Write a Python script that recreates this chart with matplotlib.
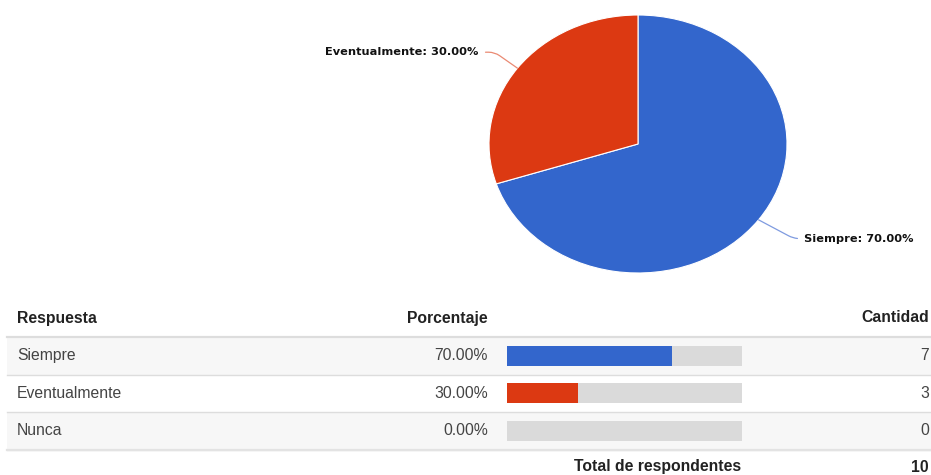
import numpy as np
import matplotlib
matplotlib.use("Agg")
import matplotlib.pyplot as plt
from matplotlib.patches import Rectangle

# data
categories = ["Siempre", "Eventualmente", "Nunca"]
counts = [7, 3, 0]
colors = ["#3366cc", "#dc3912", "#ff9900"]
leader_colors = ["#7f9be0", "#ea8a73", "#ffc266"]
col_headers = ["Respuesta", "Porcentaje", "Cantidad"]
total_label = "Total de respondentes"

W, H = 931, 475
total = sum(counts)
pcts = [100.0 * c / total for c in counts]

fig = plt.figure(figsize=(W / 100, H / 100), dpi=100)
fig.patch.set_facecolor("white")

# overlay axes in pixel coordinates for the table
ax = fig.add_axes([0, 0, 1, 1])
ax.set_xlim(0, W)
ax.set_ylim(H, 0)
ax.axis("off")

# pie (elliptical, like the stretched screenshot)
pl, pr, pt, pb = 489, 787, 15, 273
axp = fig.add_axes([pl / W, 1 - pb / H, (pr - pl) / W, (pb - pt) / H])
nz = [i for i, c in enumerate(counts) if c > 0]
wedges, _ = axp.pie([counts[i] for i in nz], colors=[colors[i] for i in nz],
                    startangle=90, counterclock=False,
                    wedgeprops=dict(edgecolor="white", linewidth=0.8))
axp.set_aspect("auto")
axp.set_xlim(-1, 1)
axp.set_ylim(-1, 1)

for w, i in zip(wedges, nz):
    ang = np.deg2rad((w.theta1 + w.theta2) / 2)
    x, y = np.cos(ang), np.sin(ang)
    txt = f"{categories[i]}: {pcts[i]:.2f}%"
    if x < 0:
        off, ha, angB = (-28, 11.5), "right", 145
    else:
        off, ha, angB = (33, -13.5), "left", -28
    axp.annotate(txt, xy=(x, y), xytext=off, textcoords="offset points",
                 ha=ha, va="center", fontsize=8.2, fontweight="bold",
                 family="DejaVu Sans", color="#111111",
                 arrowprops=dict(arrowstyle="-", color=leader_colors[i], lw=0.9,
                                 connectionstyle=f"angle,angleA=0,angleB={angB},rad=6",
                                 shrinkA=3, shrinkB=0))

# table
tfont = "Liberation Sans"
fs = 11.3
row_top = 337
row_h = 37.5
x0 = 7
xr = 929
hdr = dict(va="center", fontsize=fs, fontweight="bold", family=tfont, color="#222222")
body = dict(va="center", fontsize=fs, family=tfont, color="#444444")
ax.text(17, 318, col_headers[0], ha="left", **hdr)
ax.text(488, 318, col_headers[1], ha="right", **hdr)
ax.text(xr, 318, col_headers[2], ha="right", **hdr)

bar_x0, bar_x1 = 507, 742
for r, cat in enumerate(categories):
    y0 = row_top + r * row_h
    if r % 2 == 0:
        ax.add_patch(Rectangle((x0, y0), W - x0, row_h, facecolor="#f7f7f7",
                               edgecolor="none"))
    ax.plot([x0, W], [y0 + row_h, y0 + row_h], color="#dddddd", lw=1)
    yc = y0 + row_h / 2
    ax.text(17, yc, cat, ha="left", **body)
    ax.text(488, yc, f"{pcts[r]:.2f}%", ha="right", **body)
    ax.text(xr, yc, str(counts[r]), ha="right", **body)
    ax.add_patch(Rectangle((bar_x0, yc - 10), bar_x1 - bar_x0, 20,
                           facecolor="#dadada", edgecolor="none"))
    if counts[r] > 0:
        ax.add_patch(Rectangle((bar_x0, yc - 10),
                               (bar_x1 - bar_x0) * pcts[r] / 100, 20,
                               facecolor=colors[r], edgecolor="none"))

ax.plot([x0, W], [row_top, row_top], color="#dddddd", lw=1.6)
ax.plot([x0, W], [row_top + 3 * row_h, row_top + 3 * row_h], color="#e3e3e3", lw=1.6)

ax.text(741, 467, total_label, ha="right", **hdr)
ax.text(xr, 467, str(total), ha="right", **hdr)

fig.savefig("out.png", dpi=100, facecolor="white")
